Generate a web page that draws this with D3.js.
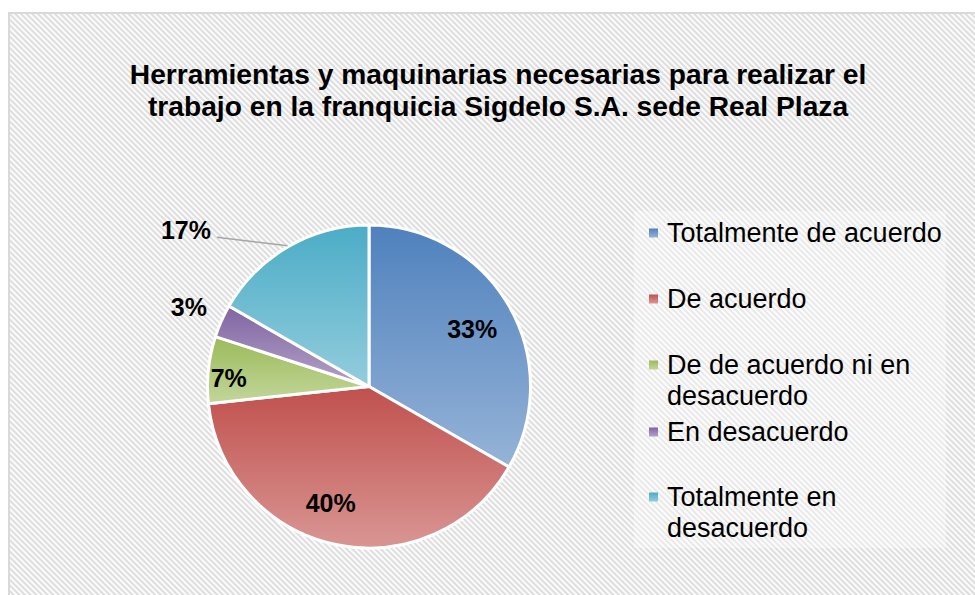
<!DOCTYPE html>
<html>
<head>
<meta charset="utf-8">
<script src="https://cdn.jsdelivr.net/npm/d3@7"></script>
<style>
  body { margin: 0; background: #fff; }
  svg text { font-family: "Liberation Sans", Arial, sans-serif; }
</style>
</head>
<body>
<div id="chart"></div>
<script>
// data (n = 30 answers)
let categories = ["Totalmente de acuerdo", "De acuerdo", "De de acuerdo ni en desacuerdo", "En desacuerdo", "Totalmente en desacuerdo"];
let legendLines = [["Totalmente de acuerdo"], ["De acuerdo"], ["De de acuerdo ni en", "desacuerdo"], ["En desacuerdo"], ["Totalmente en", "desacuerdo"]];
let values = [33.3, 40, 6.7, 3.3, 16.7];
let titleLines = ["Herramientas y maquinarias necesarias para realizar el", "trabajo en la franquicia Sigdelo S.A. sede Real Plaza"];

// top / bottom colours of each slice gradient
let colorsTop = ["#4f81bd", "#c0504d", "#9bbb59", "#8064a2", "#4bacc6"];
let colorsBottom = ["#95b3d7", "#d99694", "#c3d69b", "#b3a2c7", "#93cddd"];

function drawChart(){

	let width = 975;
	let height = 595;

	let svg = d3.select("#chart")
		.append("svg")
		.attr("width", width)
		.attr("height", height);

	let defs = svg.append("defs");

	//hatch background
	let pattern = defs.append("pattern")
		.attr("id", "hatch")
		.attr("patternUnits", "userSpaceOnUse")
		.attr("width", 4)
		.attr("height", 4)
		.attr("patternTransform", "rotate(-45)");
	pattern.append("rect").attr("width", 4).attr("height", 4).attr("fill", "#fbfbfb");
	pattern.append("rect").attr("width", 2).attr("height", 4).attr("fill", "#dedede");

	svg.append("rect")
		.attr("x", 9).attr("y", 13)
		.attr("width", width).attr("height", height)
		.attr("fill", "url(#hatch)")
		.attr("stroke", "#d9d9d9")
		.attr("stroke-width", 2);

	//gradients
	colorsTop.forEach((c, i) => {
		let g = defs.append("linearGradient")
			.attr("id", "grad" + i)
			.attr("x1", 0).attr("y1", 0).attr("x2", 0).attr("y2", 1);
		g.append("stop").attr("offset", "0%").attr("stop-color", c);
		g.append("stop").attr("offset", "100%").attr("stop-color", colorsBottom[i]);
	});

	//title
	svg.append("g")
		.selectAll("text")
		.data(titleLines)
		.join("text")
		.attr("x", 498)
		.attr("y", (d, i) => 84 + i * 32)
		.attr("text-anchor", "middle")
		.attr("font-size", 28.2)
		.attr("font-weight", "bold")
		.attr("fill", "#000")
		.text(d => d);

	//pie
	let cx = 369, cy = 386.5, radius = 161.5;

	let pie = d3.pie().sort(null).value(d => d);
	let arcs = pie(values);
	let arc = d3.arc().innerRadius(0).outerRadius(radius);

	let gPie = svg.append("g").attr("transform", `translate(${cx},${cy})`);

	gPie.selectAll("path")
		.data(arcs)
		.join("path")
		.attr("d", arc)
		.attr("fill", (d, i) => `url(#grad${i})`)
		.attr("stroke", "#fff")
		.attr("stroke-width", 3)
		.attr("stroke-linejoin", "round");

	//label placement: radius factor + angle shift (radians) from slice middle
	let labelLayout = [
		{ r: 0.73, da: 0.02 },
		{ r: 0.76, da: 0.11 },
		{ r: 0.87, da: -0.045 },
		{ r: 1.22, da: 0.0 },
		{ r: 1.49, da: -0.34 }
	];

	let polar = (a, r) => [Math.sin(a) * r, -Math.cos(a) * r];

	//leader line for the 17% label
	let last = arcs.length - 1;
	let midLast = (arcs[last].startAngle + arcs[last].endAngle) / 2;
	let p0 = polar(midLast, radius + 1);
	let pl = polar(midLast + labelLayout[last].da, radius * labelLayout[last].r);
	gPie.append("line")
		.attr("x1", p0[0]).attr("y1", p0[1])
		.attr("x2", pl[0] + 31).attr("y2", pl[1] + 7)
		.attr("stroke", "#a6a6a6")
		.attr("stroke-width", 1.5);

	gPie.selectAll(".label")
		.data(arcs)
		.join("text")
		.attr("class", "label")
		.attr("transform", (d, i) => {
			let mid = (d.startAngle + d.endAngle) / 2 + labelLayout[i].da;
			let p = polar(mid, radius * labelLayout[i].r);
			return `translate(${p[0]},${p[1]})`;
		})
		.attr("dy", "0.36em")
		.attr("text-anchor", "middle")
		.attr("font-size", 25)
		.attr("font-weight", "bold")
		.attr("fill", "#000")
		.text(d => Math.round(d.data) + "%");

	//legend
	svg.append("rect")
		.attr("x", 634).attr("y", 211)
		.attr("width", 312).attr("height", 337)
		.attr("fill", "#fff")
		.attr("opacity", 0.35);

	let legendY = [233, 299, 365, 432, 497];

	let gLeg = svg.append("g")
		.selectAll("g")
		.data(categories)
		.join("g")
		.attr("transform", (d, i) => `translate(649,${legendY[i]})`);

	gLeg.append("rect")
		.attr("x", 0).attr("y", -4.5)
		.attr("width", 9).attr("height", 9)
		.attr("fill", (d, i) => `url(#grad${i})`);

	gLeg.append("text")
		.attr("x", 18)
		.attr("y", 9)
		.attr("font-size", 27)
		.attr("fill", "#000")
		.selectAll("tspan")
		.data((d, i) => legendLines[i])
		.join("tspan")
		.attr("x", 18)
		.attr("dy", (d, j) => j === 0 ? 0 : 31)
		.text(d => d);

}

drawChart();
</script>
</body>
</html>
